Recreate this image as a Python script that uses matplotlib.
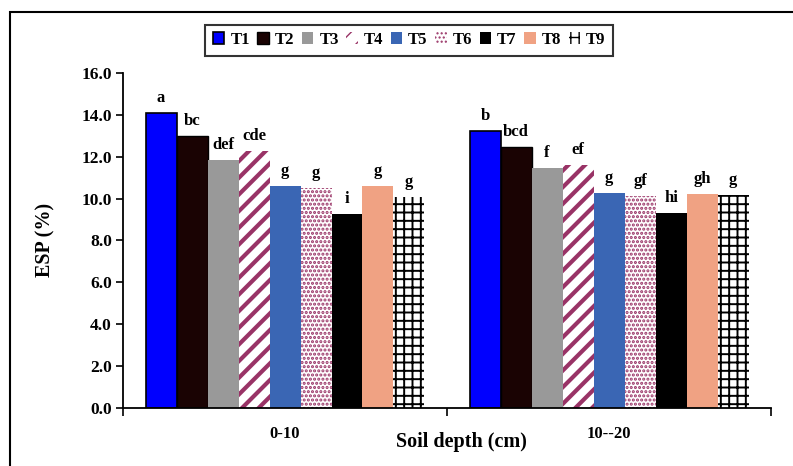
import numpy as np
import matplotlib.pyplot as plt
from matplotlib.patches import Rectangle

plt.rcParams["font.family"] = ["Liberation Serif", "DejaVu Serif"]
plt.rcParams["font.weight"] = "bold"

depths = ["0-10", "10--20"]
treatments = ["T1", "T2", "T3", "T4", "T5", "T6", "T7", "T8", "T9"]
esp = {
    "T1": [14.08, 13.23],
    "T2": [12.99, 12.48],
    "T3": [11.84, 11.45],
    "T4": [12.27, 11.60],
    "T5": [10.60, 10.25],
    "T6": [10.49, 10.12],
    "T7": [9.25, 9.30],
    "T8": [10.60, 10.20],
    "T9": [10.09, 10.17],
}
letters = {
    "T1": ["a", "b"],
    "T2": ["bc", "bcd"],
    "T3": ["def", "f"],
    "T4": ["cde", "ef"],
    "T5": ["g", "g"],
    "T6": ["g", "gf"],
    "T7": ["i", "hi"],
    "T8": ["g", "gh"],
    "T9": ["g", "g"],
}

# fill colour, edge/hatch colour, hatch, edge width, hatch width
styles = {
    "T1": ("#0000ff", "black", None, 1.2, 1.0),
    "T2": ("#1a0303", "black", None, 1.0, 1.0),
    "T3": ("#999999", "#999999", None, 0, 1.0),
    "T4": ("white", "#993366", "//", 0, 3.0),
    "T5": ("#3a66b4", "#3a66b4", None, 0, 1.0),
    "T6": ("white", "#993366", "....", 0, 1.5),
    "T7": ("black", "black", None, 0, 1.0),
    "T8": ("#f0a283", "#f0a283", None, 0, 1.0),
    "T9": ("white", "black", "++", 0, 1.4),
}

fig = plt.figure(figsize=(7.93, 4.66), dpi=100)
ax = fig.add_axes([0.1551, 0.1245, 0.8172, 0.7189])

x = np.arange(1, len(depths) + 1)
w = 0.861 / len(treatments)
handles = []
for i, t in enumerate(treatments):
    fc, ec, hatch, lw, hlw = styles[t]
    pos = x - 0.4305 + w * (i + 0.5)
    with plt.rc_context({"hatch.linewidth": hlw}):
        bars = ax.bar(pos, esp[t], width=w, color=fc, edgecolor=ec,
                      hatch=hatch, linewidth=lw, label=t)
    handles.append(bars)
    for xp, v, lab in zip(pos, esp[t], letters[t]):
        ax.annotate(lab, (xp, v), xytext=(0, 5), textcoords="offset points",
                    ha="center", va="bottom", fontsize=12, fontweight="bold")

ax.set_ylim(0, 16)
ax.set_yticks(np.arange(0, 16.1, 2))
ax.set_yticklabels([f"{v:.1f}" for v in np.arange(0, 16.1, 2)])
ax.set_xlim(0.5, 2.5)
ax.set_xticks([0.5, 1.5, 2.5])
ax.set_xticklabels([])
ax.set_xticks(x, minor=True)
ax.set_xticklabels(depths, minor=True)
ax.tick_params(axis="x", which="major", direction="out", length=6, width=1.2)
ax.tick_params(axis="x", which="minor", length=0, pad=13, labelsize=12)
ax.tick_params(axis="y", direction="out", length=5, width=1.2, labelsize=12.5, pad=3)
for s in ["top", "right"]:
    ax.spines[s].set_visible(False)
for s in ["left", "bottom"]:
    ax.spines[s].set_linewidth(1.3)

fig.text(461 / 793, 1 - 442 / 466, "Soil depth (cm)", ha="center", va="center",
         fontsize=14.5, fontweight="bold")
fig.text(45 / 793, 1 - 240 / 466, "ESP (%)", ha="center", va="center",
         rotation=90, fontsize=14.5, fontweight="bold")

fig.legend(handles=handles, labels=treatments, ncol=9, loc="center",
           bbox_to_anchor=(0.516, 0.914), frameon=True, fancybox=False,
           edgecolor="black", fontsize=12, handlelength=0.7, handleheight=0.7,
           handletextpad=0.35, columnspacing=0.45, borderpad=0.45)
fig.legends[0].get_frame().set_linewidth(1.5)

fig.add_artist(Rectangle((10 / 793, -0.1), 1.2, 1.1 - 12 / 466,
                         transform=fig.transFigure, fill=False,
                         edgecolor="black", linewidth=1.5))

fig.savefig("out.png", dpi=100)
